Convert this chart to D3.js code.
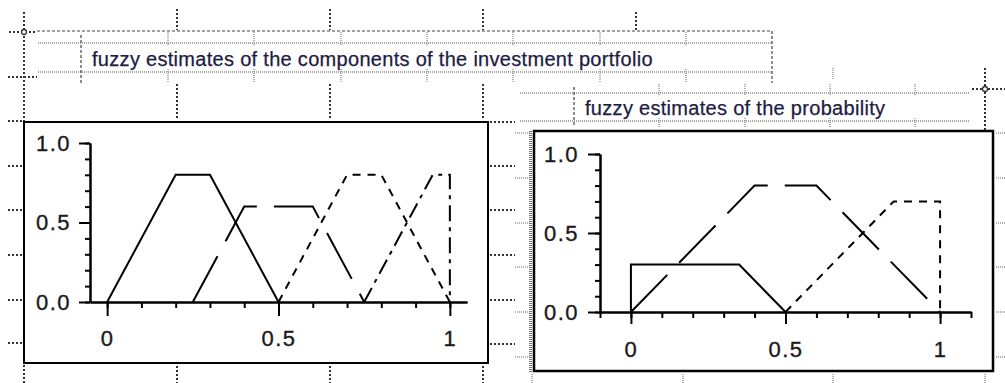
<!DOCTYPE html>
<html>
<head>
<meta charset="utf-8">
<script src="https://cdn.jsdelivr.net/npm/d3@7"></script>
<style>
  body { margin: 0; background: #fff; }
  svg { display: block; font-family: Arial, "Liberation Sans", sans-serif; }
  .tick text { font-size: 22px; fill: #1a1a1a; stroke: #1a1a1a; stroke-width: 0.35px; letter-spacing: 1.5px; }
  .axis path, .axis line { stroke: #000; stroke-width: 2px; }
  .title { font-size: 20px; fill: #1c1c44; stroke: #1c1c44; stroke-width: 0.25px; letter-spacing: 0.3px; }
  .dk { stroke: #333; stroke-width: 2px; stroke-dasharray: 2,2; }
  .gr { stroke: #8a8a8a; stroke-width: 1.3px; stroke-dasharray: 1,1; }
  .gt { stroke: #999; stroke-width: 1.5px; stroke-dasharray: 1,1; }
  .dash { stroke: #444; stroke-width: 1.2px; stroke-dasharray: 3,2; }
  .trace { fill: none; stroke: #000; stroke-width: 2px; }
</style>
</head>
<body>
<script>
// ---- chart data ----
var titleLeft = "fuzzy estimates of the components of the investment portfolio";
var titleRight = "fuzzy estimates of the probability";

var majorTicks = [0, 0.5, 1];
var xTickLabels = ["0", "0.5", "1"];
var yTickLabels = ["0.0", "0.5", "1.0"];
var yMinorTicks = [0, 0.1, 0.2, 0.3, 0.4, 0.5, 0.6, 0.7, 0.8, 0.9, 1];
var xMinorLeft = [0, 0.1, 0.2, 0.3, 0.4, 0.5, 0.6, 0.7, 0.8, 0.9, 1];
var xMinorRight = [-0.1, 0, 0.1, 0.2, 0.3, 0.4, 0.5, 0.6, 0.7, 0.8, 0.9, 1, 1.1];

// portfolio components (left plot), four trapezoids
var portfolioX = [
    [0, 0.2, 0.3, 0.5],
    [0.25, 0.4, 0.6, 0.75],
    [0.5, 0.7, 0.8, 1],
    [0.75, 0.95, 1, 1]
];
var portfolioY = [
    [0, 0.8, 0.8, 0],
    [0, 0.6, 0.6, 0],
    [0, 0.8, 0.8, 0],
    [0, 0.8, 0.8, 0]
];

// probability (right plot), three traces
var probX = [
    [0, 0, 0.35, 0.5],
    [0, 0.4, 0.6, 1],
    [0.5, 0.85, 1, 1]
];
var probY = [
    [0, 0.3, 0.3, 0],
    [0, 0.8, 0.8, 0],
    [0, 0.7, 0.7, 0]
];

// ---- drawing ----
var svgWidth = 1005, svgHeight = 383;
var svg = d3.select("body").append("svg")
    .attr("width", svgWidth).attr("height", svgHeight);
svg.append("rect").attr("width", svgWidth).attr("height", svgHeight).attr("fill", "#fff");

var deco = svg.append("g");

function seg(x1, y1, x2, y2, cls) {
    deco.append("line").attr("class", cls)
        .attr("x1", x1).attr("y1", y1).attr("x2", x2).attr("y2", y2);
}
function knot(cx, cy) {
    deco.append("circle").attr("cx", cx).attr("cy", cy).attr("r", 2.5)
        .attr("fill", "#fff").attr("stroke", "#333").attr("stroke-width", 1.3);
}

// worksheet region marks around the left plot
seg(24, 12, 24, 121, "dk");
seg(24, 365, 24, 383, "dk");
[177, 330, 483].forEach(function (x) {
    seg(x, 9, x, 30, "dk");
    seg(x, 84, x, 119, "dk");
    seg(x, 366, x, 383, "dk");
});
seg(636, 12, 636, 30, "dk");
seg(9, 32, 37, 32, "dk");
seg(8, 77, 37, 77, "dk");
[121, 166, 210, 255, 300, 343].forEach(function (y) { seg(8, y, 22, y, "dk"); });
[122, 166, 210, 255, 300, 344].forEach(function (y) { seg(490, y, 515, y, "dk"); });
knot(24, 32);

// left title region
seg(37, 31, 772, 31, "dash");
seg(38, 43, 771, 43, "gr");
seg(38, 72, 771, 72, "gr");
seg(81, 35, 81, 83, "dash");
seg(772, 31, 772, 83, "dash");
[168, 254, 341, 427, 513, 600, 686].forEach(function (x) {
    seg(x, 32, x, 46, "gt");
    seg(x, 69, x, 83, "gt");
});

// right title region
seg(520, 93, 969, 93, "gr");
seg(520, 121, 969, 121, "gr");
seg(574, 87, 574, 125, "dash");
[659, 745, 830, 915].forEach(function (x) {
    seg(x, 84, x, 96, "gt");
    seg(x, 118, x, 128, "gt");
});
seg(833, 68, 833, 80, "gt");
seg(972, 89, 1005, 89, "dk");
seg(985, 68, 985, 130, "dk");
knot(985, 89);

// right plot region marks
[133, 178, 223, 267, 312, 357].forEach(function (y) {
    seg(515, y, 530, y, "gt");
    seg(996, y, 1005, y, "gt");
});
[532, 683, 833, 985].forEach(function (x) { seg(x, 374, x, 383, "gt"); });
deco.append("line").attr("x1", 530.5).attr("y1", 131).attr("x2", 530.5).attr("y2", 372)
    .attr("stroke", "#777").attr("stroke-width", 3).attr("stroke-dasharray", "1,1");

// titles
svg.append("text").attr("class", "title").attr("x", 92).attr("y", 66).text(titleLeft);
svg.append("text").attr("class", "title").attr("x", 585).attr("y", 115).text(titleRight);

// plot frames
svg.append("rect").attr("x", 24).attr("y", 122).attr("width", 464).attr("height", 241)
    .attr("fill", "none").attr("stroke", "#000").attr("stroke-width", 2);
svg.append("rect").attr("x", 534).attr("y", 131).attr("width", 459).attr("height", 240)
    .attr("fill", "none").attr("stroke", "#000").attr("stroke-width", 2.5);

var dashes = ["none", "52,17", "8,7", "16,6,4,6"];

function drawPlot(x, y, xMinor, xs, ys, opt) {
    var g = svg.append("g");
    var x0 = x.domain()[0];

    g.append("g").attr("class", "axis")
        .attr("transform", "translate(" + x(x0) + ",0)")
        .call(d3.axisLeft(y).tickValues(yMinorTicks).tickSize(5).tickSizeOuter(0).tickFormat(""));
    g.append("g").attr("class", "axis")
        .attr("transform", "translate(" + x(x0) + ",0)")
        .call(d3.axisLeft(y).tickValues(majorTicks).tickSize(opt.yTick).tickSizeOuter(0)
            .tickPadding(opt.yPad)
            .tickFormat(function (d, i) { return yTickLabels[i]; }));

    g.append("g").attr("class", "axis")
        .attr("transform", "translate(0," + y(0) + ")")
        .call(d3.axisBottom(x).tickValues(xMinor).tickSize(6).tickSizeOuter(0).tickFormat(""));
    g.append("g").attr("class", "axis")
        .attr("transform", "translate(0," + y(0) + ")")
        .call(d3.axisBottom(x).tickValues(majorTicks).tickSize(opt.xTick).tickSizeOuter(0)
            .tickPadding(opt.xPad)
            .tickFormat(function (d, i) { return xTickLabels[i]; }));

    var line = d3.line()
        .x(function (d) { return x(d[0]); })
        .y(function (d) { return y(d[1]); });

    g.selectAll("path.trace")
        .data(xs.map(function (row, i) { return d3.zip(row, ys[i]); }))
        .enter().append("path")
        .attr("class", "trace")
        .attr("d", line)
        .attr("stroke-dasharray", function (d, i) { return opt.dash[i]; });
}

var xLeft = d3.scaleLinear().domain([-0.05, 1.05]).range([90, 467]);
var yLeft = d3.scaleLinear().domain([0, 1]).range([302, 143]);
drawPlot(xLeft, yLeft, xMinorLeft, portfolioX, portfolioY,
    { yTick: 11, yPad: 8, xTick: 14, xPad: 14, dash: dashes });

var xRight = d3.scaleLinear().domain([-0.1, 1.1]).range([600, 971]);
var yRight = d3.scaleLinear().domain([0, 1]).range([312, 154]);
drawPlot(xRight, yRight, xMinorRight, probX, probY,
    { yTick: 12, yPad: 9, xTick: 12, xPad: 17, dash: [dashes[0], dashes[1], dashes[2]] });
</script>
</body>
</html>
